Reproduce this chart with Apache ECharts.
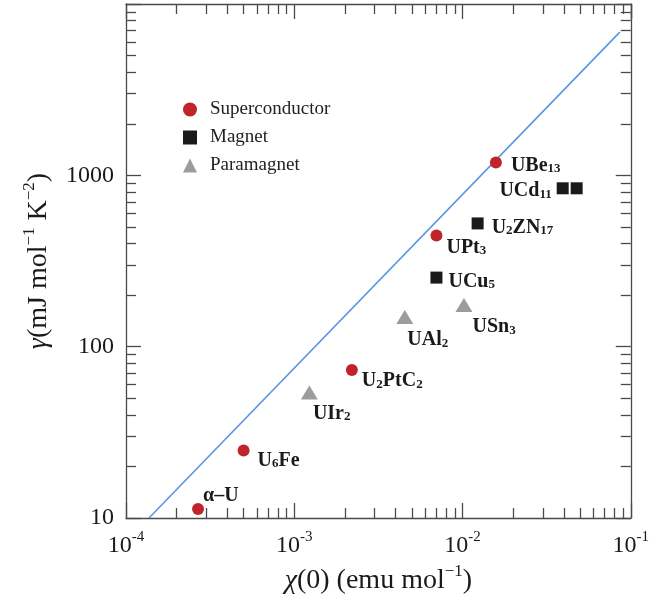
<!DOCTYPE html>
<html>
<head>
<meta charset="utf-8">
<script src="https://cdn.jsdelivr.net/npm/echarts@6/dist/echarts.min.js"></script>
<style>
  html, body { margin: 0; padding: 0; background: #fff; }
  #chart { width: 652px; height: 611px; }
</style>
</head>
<body>
<div id="chart"></div>
<script>
  const serif = "'Liberation Serif', 'DejaVu Serif', serif";

  // axis ticks
  const xMajor = [1e-4, 1e-3, 1e-2, 1e-1];
  const xMajorExp = ['-4', '-3', '-2', '-1'];
  const yMajor = [10, 100, 1000];
  const yMajorLabels = ['10', '100', '1000'];
  const mantissas = [2, 3, 4, 5, 6, 7, 8, 9];
  const xDecades = [1e-4, 1e-3, 1e-2];
  const yDecades = [10, 100, 1000];

  // superconductors
  const superNames = ['α–U', 'U6Fe', 'U2PtC2', 'UPt3', 'UBe13'];
  const superChi = [2.68e-4, 5.0e-4, 2.2e-3, 7.0e-3, 1.58e-2];
  const superGamma = [11.3, 24.8, 73, 445, 1190];

  // magnets
  const magnetNames = ['UCu5', 'U2ZN17', 'UCd11', ''];
  const magnetChi = [7.0e-3, 1.23e-2, 3.94e-2, 4.77e-2];
  const magnetGamma = [253, 524, 840, 840];

  // paramagnets
  const paraNames = ['UIr2', 'UAl2', 'USn3'];
  const paraChi = [1.23e-3, 4.54e-3, 1.02e-2];
  const paraGamma = [54, 149, 175];

  // guide line gamma ~ chi
  const fitChi = [1.37e-4, 8.61e-2];
  const fitGamma = [10, 6850];

  // label placement (pixels, relative to default 'right' position)
  const labelPlace = {
    'α–U': ['right', -6, -14],
    'U6Fe': ['right', 3, 9],
    'U2PtC2': ['right', -1, 10],
    'UPt3': ['right', -1, 11],
    'UBe13': ['right', 4, 2],
    'UCu5': ['right', 1, 3],
    'U2ZN17': ['right', 3, 3],
    'UCd11': ['left', 0, 2],
    'UIr2': ['right', -10, 20],
    'UAl2': ['right', -11, 22],
    'USn3': ['right', -5, 21]
  };

  const xMinor = [];
  xDecades.forEach(d => mantissas.forEach(m => xMinor.push(+(m * d).toPrecision(3))));
  const yMinor = [];
  yDecades.forEach(d => mantissas.forEach(m => yMinor.push(m * d)));

  const axisColor = '#4a4a4a';

  function richName(name) {
    return '{b|' + name.replace(/(\d+)/g, '}{s|$1}{b|') + '}';
  }

  function points(names, xs, ys) {
    return xs.map((x, i) => {
      const p = { value: [x, ys[i]], name: names[i] };
      const place = labelPlace[names[i]];
      if (place) {
        p.label = { show: true, position: place[0], offset: [place[1], place[2]] };
      }
      return p;
    });
  }

  const labelStyle = {
    show: false,
    fontFamily: serif,
    color: '#1a1a1a',
    formatter: p => p.name ? richName(p.name) : '',
    rich: {
      b: { fontFamily: serif, fontSize: 20, fontWeight: 'bold', color: '#1a1a1a', lineHeight: 22, verticalAlign: 'bottom' },
      s: { fontFamily: serif, fontSize: 13, fontWeight: 'bold', color: '#1a1a1a', lineHeight: 12, verticalAlign: 'bottom' }
    }
  };

  function logAxis(dim, pos, ticks, len, extra) {
    const base = {
      type: 'log',
      logBase: 10,
      min: dim === 'x' ? 1e-4 : 10,
      max: dim === 'x' ? 1e-1 : 10000,
      position: pos,
      axisLine: { show: true, onZero: false, lineStyle: { color: axisColor, width: 1.3 } },
      axisTick: { show: true, inside: true, length: len, lineStyle: { color: axisColor, width: 1.3 } },
      axisLabel: { show: false },
      splitLine: { show: false },
      minorTick: { show: false },
      silent: true
    };
    if (ticks) base.axisTick.customValues = ticks;
    return Object.assign(base, extra || {});
  }

  const xLabel = {
    show: true,
    margin: 12,
    fontFamily: serif,
    color: '#1a1a1a',
    formatter: v => {
      const i = xMajor.findIndex(t => Math.abs(Math.log10(t) - Math.log10(v)) < 1e-6);
      return i < 0 ? '' : '{b|10}{s|' + xMajorExp[i] + '}';
    },
    rich: {
      b: { fontFamily: serif, fontSize: 24, color: '#1a1a1a', lineHeight: 28, verticalAlign: 'bottom' },
      s: { fontFamily: serif, fontSize: 15, color: '#1a1a1a', lineHeight: 15, verticalAlign: 'top' }
    }
  };

  const yLabel = {
    show: true,
    margin: 12,
    fontFamily: serif,
    fontSize: 24,
    color: '#1a1a1a',
    formatter: v => {
      const i = yMajor.findIndex(t => Math.abs(Math.log10(t) - Math.log10(v)) < 1e-6);
      return i < 0 ? '' : yMajorLabels[i];
    }
  };

  const nameRich = {
    i: { fontFamily: serif, fontSize: 28, fontStyle: 'italic', color: '#1a1a1a', lineHeight: 32, verticalAlign: 'bottom' },
    n: { fontFamily: serif, fontSize: 28, color: '#1a1a1a', lineHeight: 32, verticalAlign: 'bottom' },
    p: { fontFamily: serif, fontSize: 17, color: '#1a1a1a', lineHeight: 17, verticalAlign: 'top' }
  };

  const chart = echarts.init(document.getElementById('chart'));
  chart.setOption({
    backgroundColor: '#ffffff',
    animation: false,
    grid: { left: 126, right: 19, top: 4, bottom: 93 },
    legend: {
      data: [
        { name: 'Superconductor', icon: 'circle' },
        { name: 'Magnet', icon: 'rect' },
        { name: 'Paramagnet', icon: 'triangle' }
      ],
      orient: 'vertical',
      left: 183,
      top: 100,
      padding: 0,
      itemWidth: 14,
      itemHeight: 14,
      itemGap: 9,
      textStyle: { fontFamily: serif, fontSize: 19, color: '#222', padding: [0, 0, 0, 8] }
    },
    xAxis: [
      logAxis('x', 'bottom', null, 15, {
        axisLabel: xLabel,
        name: '{i|χ}{n|(0) (emu mol}{p|−1}{n|)}',
        nameLocation: 'middle',
        nameGap: 45,
        nameTextStyle: { rich: nameRich }
      }),
      logAxis('x', 'bottom', xMinor, 10, { axisLine: { show: false } }),
      logAxis('x', 'top', null, 15),
      logAxis('x', 'top', xMinor, 10, { axisLine: { show: false } })
    ],
    yAxis: [
      logAxis('y', 'left', null, 15, {
        axisLabel: yLabel,
        name: '{i|γ}{n|(mJ mol}{p|−1}{n| K}{p|−2}{n|)}',
        nameLocation: 'middle',
        nameGap: 73,
        nameTextStyle: { rich: nameRich }
      }),
      logAxis('y', 'left', yMinor, 10, { axisLine: { show: false } }),
      logAxis('y', 'right', null, 15),
      logAxis('y', 'right', yMinor, 10, { axisLine: { show: false } })
    ],
    series: [
      {
        type: 'line',
        data: fitChi.map((x, i) => [x, fitGamma[i]]),
        showSymbol: false,
        silent: true,
        lineStyle: { color: '#5596e3', width: 1.6 },
        z: 1
      },
      {
        name: 'Superconductor',
        type: 'scatter',
        symbol: 'circle',
        symbolSize: 12,
        itemStyle: { color: '#c1232b', opacity: 1 },
        label: labelStyle,
        data: points(superNames, superChi, superGamma),
        z: 3
      },
      {
        name: 'Magnet',
        type: 'scatter',
        symbol: 'rect',
        symbolSize: 12,
        itemStyle: { color: '#1a1a1a', opacity: 1 },
        label: labelStyle,
        data: points(magnetNames, magnetChi, magnetGamma),
        z: 3
      },
      {
        name: 'Paramagnet',
        type: 'scatter',
        symbol: 'triangle',
        symbolSize: [17, 14],
        itemStyle: { color: '#9c9c9e', opacity: 1 },
        label: labelStyle,
        data: points(paraNames, paraChi, paraGamma),
        z: 3
      }
    ]
  });
</script>
</body>
</html>
